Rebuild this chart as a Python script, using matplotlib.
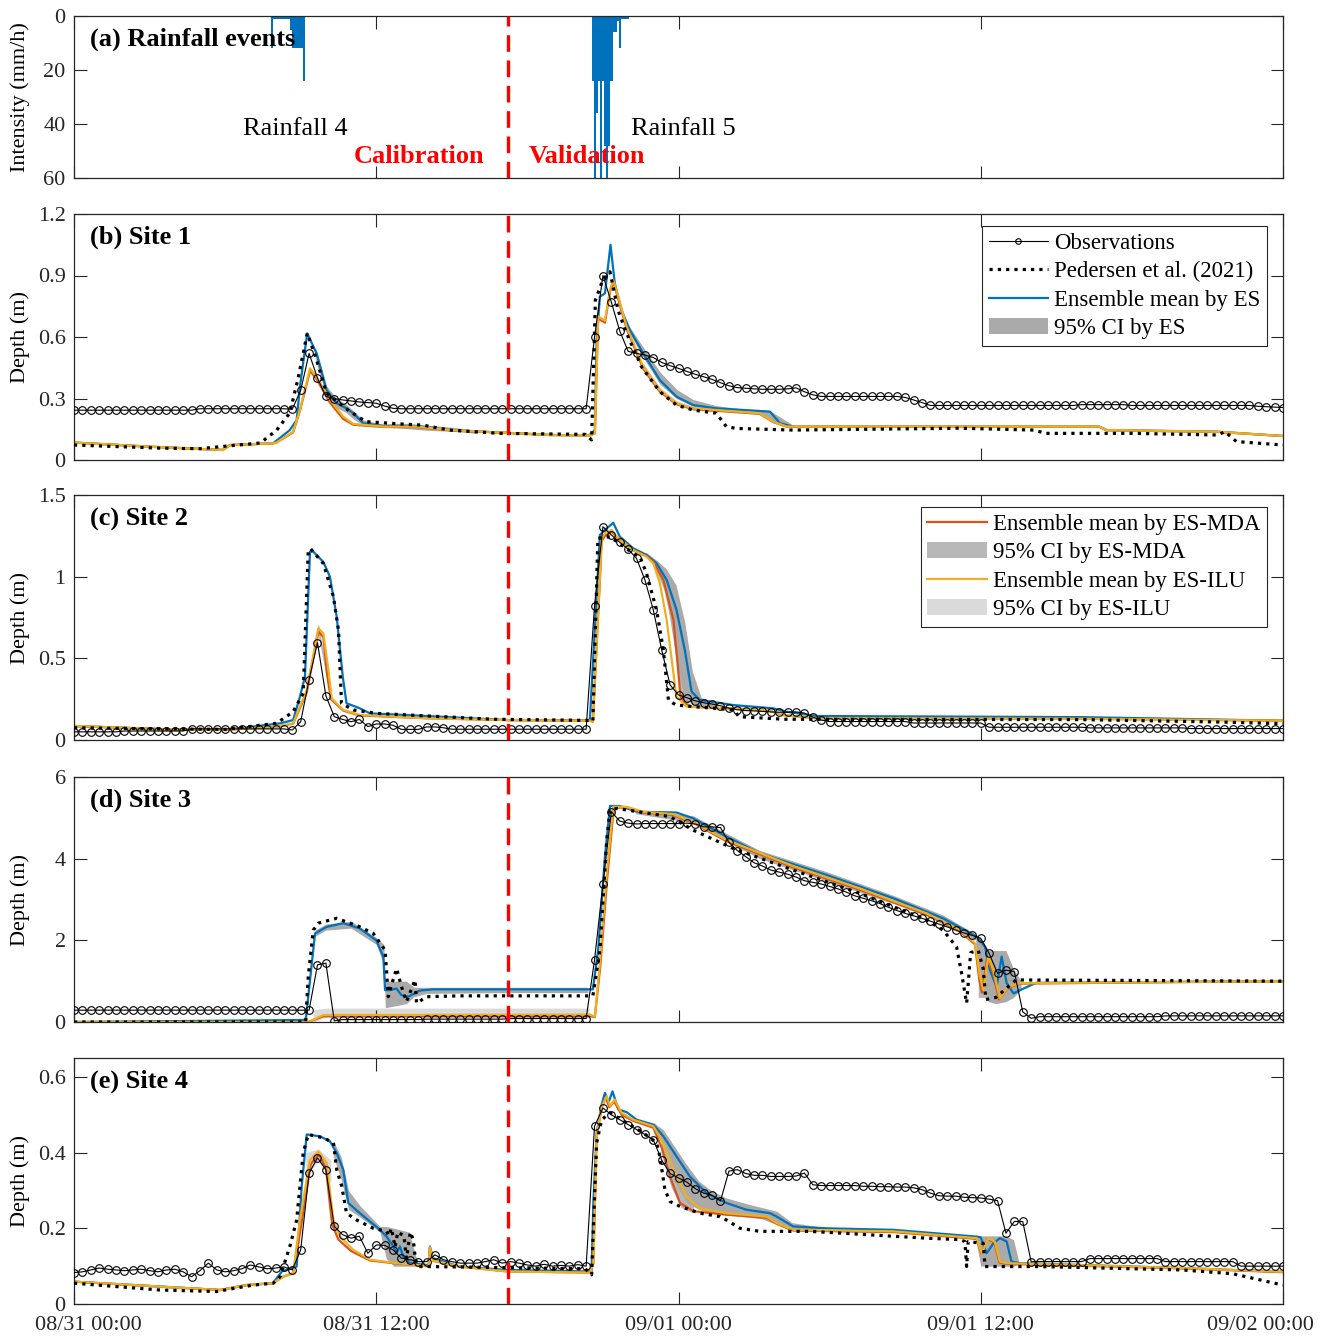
import numpy as np
import matplotlib
matplotlib.use('Agg')
import matplotlib.pyplot as plt
import matplotlib.transforms as mtrans
from matplotlib.patches import Patch
from matplotlib.lines import Line2D
from matplotlib.ticker import FuncFormatter

plt.rcParams['font.family'] = ['Liberation Serif', 'DejaVu Serif']
plt.rcParams['font.size'] = 16
plt.rcParams['axes.edgecolor'] = '#262626'
plt.rcParams['xtick.color'] = '#262626'
plt.rcParams['ytick.color'] = '#262626'

# time in hours from 08/31 00:00
xtick_h = [0, 12, 24, 36, 48]
xtick_lab = ['08/31 00:00', '08/31 12:00', '09/01 00:00', '09/01 12:00', '09/02 00:00']
t_split = 17.25

# ---------------- rainfall (5 min) ----------------
r4_t0 = 7.83
r4 = [12, 1, 1, 1, 1, 1, 1, 1, 1, 5, 12, 12, 12, 12, 12, 24]
r5_t0 = 20.55
r5 = [24, 75, 36, 24, 75, 24, 48, 75, 48, 24, 6, 6, 2, 12, 1, 1, 1, 1]

# ---------------- observations (every 20 min) ----------------
obs1 = ([0.243]*15 + [0.25]*11 +
        [0.248, 0.34, 0.52, 0.40, 0.31, 0.30, 0.293, 0.288, 0.283, 0.28, 0.277, 0.263, 0.252] +
        [0.25]*23 +
        [0.60, 0.90, 0.77, 0.63, 0.53, 0.52, 0.512, 0.50, 0.476, 0.46, 0.447, 0.432, 0.418, 0.406,
         0.393, 0.377, 0.362, 0.353, 0.35, 0.347, 0.345, 0.345, 0.345, 0.347, 0.352, 0.333, 0.318] +
        [0.31]*10 + [0.305, 0.293, 0.28] + [0.266]*18 + [0.27]*6 + [0.266]*15 +
        [0.262, 0.26, 0.258, 0.256])
obs2 = ([0.05]*6 + [0.055]*8 + [0.068]*12 +
        [0.061, 0.112, 0.37, 0.596, 0.271, 0.143, 0.126, 0.112, 0.126, 0.082, 0.098, 0.098, 0.09,
         0.065, 0.065, 0.065, 0.08, 0.08, 0.075] +
        [0.066]*17 +
        [0.823, 1.306, 1.255, 1.21, 1.168, 1.112, 0.98, 0.796, 0.551, 0.337, 0.276, 0.259, 0.24,
         0.228, 0.22, 0.21, 0.195, 0.185, 0.18, 0.178, 0.175, 0.172, 0.17, 0.17, 0.172, 0.165, 0.14, 0.122] +
        [0.113]*10 + [0.104]*9 + [0.078]*12 + [0.074]*12 + [0.07]*12)
obs3 = ([0.29]*29 + [1.40, 1.44, 0.03] + [0.06]*10 + [0.07]*10 + [0.085]*10 +
        [1.52, 3.38, 5.15, 4.92, 4.87, 4.85, 4.86, 4.86, 4.86, 4.86, 4.86, 4.87, 4.85, 4.78, 4.78,
         4.76, 4.4, 4.2, 4.05, 3.9, 3.82, 3.72, 3.67, 3.62, 3.55, 3.46, 3.42, 3.38, 3.32, 3.26, 3.18,
         3.09, 3.03, 2.97, 2.9, 2.81, 2.73, 2.66, 2.6, 2.54, 2.47, 2.4, 2.33, 2.25, 2.18, 2.12, 2.05,
         1.68, 1.19, 1.27, 1.23, 0.25, 0.09] +
        [0.13]*15 + [0.15]*15)
obs4 = ([0.083, 0.085, 0.09, 0.095, 0.092, 0.09, 0.088, 0.09, 0.092, 0.088, 0.085, 0.09, 0.092,
         0.085, 0.072, 0.088, 0.108, 0.09, 0.085, 0.088, 0.093, 0.103, 0.098, 0.093, 0.095, 0.098,
         0.09, 0.143, 0.346, 0.386, 0.355, 0.205, 0.183, 0.174, 0.179, 0.134, 0.156, 0.155, 0.143,
         0.121, 0.117, 0.112, 0.112, 0.13, 0.117, 0.112, 0.108, 0.108, 0.108, 0.112, 0.117, 0.108,
         0.112, 0.108, 0.103, 0.1, 0.105, 0.1, 0.102, 0.1, 0.104, 0.1] +
        [0.47, 0.518, 0.5, 0.487, 0.474, 0.461, 0.448, 0.434, 0.38, 0.345, 0.333, 0.322, 0.305,
         0.293, 0.287, 0.272, 0.351, 0.355, 0.345, 0.34, 0.34, 0.337, 0.337, 0.337, 0.338, 0.346,
         0.315, 0.313, 0.313, 0.313, 0.313, 0.313, 0.311, 0.311, 0.31, 0.31, 0.309, 0.309, 0.307,
         0.302, 0.293, 0.286, 0.285, 0.285, 0.282, 0.281, 0.28, 0.277, 0.273, 0.187, 0.218, 0.218, 0.112] +
        [0.112]*6 + [0.12]*9 + [0.112]*9 + [0.1]*6)

# ---------------- site 1 ----------------
p1_t = [0, 3.4, 5.0, 5.8, 7.4, 8.05, 8.57, 8.9, 9.26, 9.6, 10.03, 10.96, 11.6, 12.94, 13.86, 14.9,
        16.9, 20.3, 20.55, 20.7, 21.0, 21.28, 21.6, 21.94, 22.53, 23.26, 23.92, 24.58, 25.5, 25.9,
        26.3, 28.55, 35.2, 38.1, 38.6, 42.0, 45.4, 45.7, 46.15, 48]
p1_y = [0.073, 0.058, 0.055, 0.065, 0.083, 0.146, 0.23, 0.40, 0.618, 0.50, 0.325, 0.236, 0.187,
        0.176, 0.17, 0.146, 0.13, 0.125, 0.098, 0.78, 0.88, 0.918, 0.73, 0.618, 0.455, 0.333, 0.268,
        0.244, 0.228, 0.163, 0.154, 0.146, 0.155, 0.146, 0.13, 0.13, 0.122, 0.138, 0.09, 0.073]
es1_t = [0, 3.0, 5.9, 6.2, 7.9, 8.57, 8.84, 8.97, 9.26, 9.63, 10.03, 10.43, 10.82, 11.09, 11.49,
         12.28, 13.6, 14.9, 17.57, 18.9, 20.45, 20.68, 20.75, 20.88, 21.08, 21.3, 21.47, 21.74, 22.07,
         22.6, 23.26, 23.92, 24.58, 25.5, 27.63, 28.03, 28.55, 40.7, 41.0, 45.4, 48]
es1_y = [0.085, 0.065, 0.049, 0.073, 0.081, 0.146, 0.195, 0.357, 0.618, 0.52, 0.34, 0.277, 0.252,
         0.228, 0.179, 0.166, 0.166, 0.146, 0.13, 0.122, 0.12, 0.146, 0.585, 0.797, 0.813, 1.05,
         0.862, 0.73, 0.634, 0.52, 0.39, 0.309, 0.268, 0.252, 0.236, 0.179, 0.163, 0.163, 0.146,
         0.138, 0.117]
ilu1_t = [0, 3.0, 5.9, 6.2, 7.9, 8.04, 8.7, 8.97, 9.37, 9.63, 10.16, 10.69, 11.09, 12.28, 13.6,
          14.9, 17.57, 18.9, 20.5, 20.68, 20.81, 21.08, 21.28, 21.41, 21.61, 21.94, 22.6, 23.26,
          23.92, 24.58, 27.23, 27.76, 28.3, 40.7, 41.0, 45.4, 48]
ilu1_y = [0.085, 0.065, 0.049, 0.073, 0.081, 0.085, 0.138, 0.244, 0.447, 0.406, 0.293, 0.211,
          0.176, 0.163, 0.163, 0.146, 0.13, 0.122, 0.12, 0.13, 0.7, 0.68, 0.83, 0.878, 0.797, 0.65,
          0.455, 0.341, 0.277, 0.252, 0.228, 0.187, 0.163, 0.163, 0.146, 0.138, 0.117]
mda1_t = ilu1_t
mda1_y = [0.085, 0.065, 0.049, 0.073, 0.081, 0.085, 0.135, 0.24, 0.435, 0.395, 0.28, 0.20, 0.172,
          0.161, 0.161, 0.145, 0.13, 0.122, 0.12, 0.13, 0.69, 0.67, 0.82, 0.868, 0.787, 0.64, 0.445,
          0.333, 0.272, 0.248, 0.225, 0.185, 0.162, 0.162, 0.145, 0.137, 0.117]
ci_es1 = [([9.6, 10.03, 10.43, 10.82, 11.09, 11.49, 12.28, 13.0, 14.0, 15.0, 16.0],
           [0.48, 0.31, 0.255, 0.23, 0.20, 0.17, 0.16, 0.155, 0.145, 0.14, 0.13],
           [0.55, 0.36, 0.30, 0.27, 0.24, 0.195, 0.175, 0.18, 0.17, 0.16, 0.145]),
          ([22.0, 22.6, 23.26, 23.92, 24.58, 25.5, 26.5, 27.3, 27.63, 28.03, 28.55],
           [0.63, 0.5, 0.37, 0.30, 0.262, 0.245, 0.235, 0.225, 0.2, 0.17, 0.16],
           [0.66, 0.55, 0.43, 0.345, 0.295, 0.265, 0.25, 0.245, 0.24, 0.21, 0.17])]
ci_mda1 = [([22.6, 23.26, 23.92, 24.58, 25.5], [0.44, 0.33, 0.27, 0.245, 0.235],
            [0.47, 0.35, 0.285, 0.26, 0.245])]
ci_ilu1 = [([22.6, 23.26, 23.92, 24.58, 25.5], [0.445, 0.335, 0.272, 0.248, 0.236],
            [0.47, 0.355, 0.29, 0.262, 0.248])]

# ---------------- site 2 ----------------
p2_t = [0, 3.4, 6.0, 8.04, 8.7, 9.1, 9.3, 9.4, 9.9, 10.3, 10.5, 10.62, 11.09, 12.0, 16.65, 20.5,
        20.6, 20.8, 21.28, 22.2, 22.47, 22.73, 23.13, 23.4, 23.6, 23.9, 26.2, 26.4, 28.2, 40, 45.5, 48]
p2_y = [0.075, 0.068, 0.065, 0.102, 0.173, 0.286, 1.163, 1.17, 1.08, 0.877, 0.673, 0.225, 0.184,
        0.163, 0.127, 0.12, 0.115, 1.235, 1.245, 1.143, 1.122, 1.02, 0.796, 0.551, 0.245, 0.214,
        0.184, 0.143, 0.127, 0.125, 0.11, 0.1]
es2_t = [0, 3.4, 6.0, 8.18, 8.7, 8.97, 9.17, 9.37, 9.5, 9.9, 10.16, 10.43, 10.67, 10.82, 11.35,
         11.75, 14.0, 17.2, 20.48, 20.88, 21.08, 21.41, 21.67, 22.2, 22.73, 23.13, 23.53, 23.92,
         24.25, 24.52, 24.85, 26.17, 27.76, 28.3, 29.48, 40, 48]
es2_y = [0.085, 0.067, 0.062, 0.102, 0.122, 0.265, 0.388, 1.153, 1.153, 1.09, 1.0, 0.755, 0.388,
         0.225, 0.194, 0.163, 0.147, 0.122, 0.12, 1.255, 1.286, 1.33, 1.245, 1.174, 1.133, 1.082,
         0.98, 0.796, 0.551, 0.296, 0.245, 0.214, 0.194, 0.173, 0.147, 0.14, 0.118]
ilu2_t = [0, 3.4, 6.06, 6.85, 8.04, 8.7, 9.24, 9.7, 9.9, 10.1, 10.23, 10.69, 11.35, 14.0, 17.2,
          20.5, 20.6, 20.88, 20.95, 21.08, 21.35, 21.55, 22.2, 22.73, 23.0, 23.26, 23.53, 23.73,
          23.92, 24.32, 27.5, 28.16, 29.48, 40, 48]
ilu2_y = [0.086, 0.067, 0.061, 0.071, 0.081, 0.102, 0.306, 0.684, 0.653, 0.429, 0.255, 0.184,
          0.153, 0.133, 0.122, 0.118, 0.112, 1.0, 1.235, 1.265, 1.286, 1.245, 1.163, 1.122, 1.082,
          0.96, 0.735, 0.49, 0.265, 0.204, 0.184, 0.153, 0.133, 0.13, 0.118]
mda2_t = [0, 3.4, 6.06, 6.85, 8.04, 8.7, 9.24, 9.7, 9.9, 10.05, 10.2, 10.69, 11.35, 14.0, 17.2,
          20.5, 20.6, 20.88, 20.95, 21.08, 21.35, 21.55, 22.2, 22.73, 23.0, 23.4, 23.8, 23.95, 24.08,
          24.4, 27.5, 28.16, 29.48, 40, 48]
mda2_y = [0.086, 0.067, 0.061, 0.071, 0.081, 0.1, 0.29, 0.665, 0.63, 0.40, 0.25, 0.18, 0.15,
          0.133, 0.122, 0.118, 0.112, 0.98, 1.22, 1.25, 1.275, 1.24, 1.163, 1.125, 1.09, 0.98, 0.735,
          0.49, 0.265, 0.204, 0.184, 0.153, 0.133, 0.13, 0.118]
ci_es2 = [([22.7, 23.13, 23.5, 23.9, 24.25, 24.55, 24.9, 25.5],
           [1.12, 1.05, 0.9, 0.5, 0.25, 0.22, 0.21, 0.205],
           [1.15, 1.10, 1.05, 0.95, 0.72, 0.42, 0.26, 0.225])]
ci_mda2 = [([9.2, 9.7, 10.2], [0.28, 0.64, 0.24], [0.32, 0.71, 0.27]),
           ([23.0, 23.4, 23.8, 24.1, 24.4], [1.07, 0.93, 0.65, 0.25, 0.2], [1.1, 1.02, 0.85, 0.45, 0.22])]
ci_ilu2 = [([9.2, 9.7, 10.2], [0.29, 0.66, 0.25], [0.33, 0.72, 0.28])]

# ---------------- site 3 ----------------
p3_t = [0, 9.2, 9.3, 9.5, 9.7, 10.43, 11.35, 11.88, 12.35, 12.48, 12.6, 12.81, 13.0, 13.2, 13.54,
        13.6, 14.0, 15.3, 20.6, 20.88, 21.15, 21.28, 21.55, 23.66, 24.58, 26.17, 28.55, 31.2, 33.85,
        34.5, 35.04, 35.24, 35.44, 35.6, 35.9, 36.1, 36.2, 36.6, 37.4, 48]
p3_y = [0.0, 0.0, 1.11, 2.25, 2.42, 2.54, 2.33, 2.17, 1.76, 0.62, 0.9, 1.31, 0.865, 0.5, 1.03,
        0.46, 0.62, 0.64, 0.64, 1.76, 4.46, 5.19, 5.23, 5.03, 4.7, 4.25, 3.72, 3.15, 2.5, 2.25, 1.84,
        1.19, 0.46, 1.7, 1.75, 1.3, 0.55, 0.6, 1.03, 1.0]
es3_t = [0, 9.2, 9.57, 10.03, 10.69, 11.35, 12.0, 12.28, 12.35, 12.54, 12.8, 13.0, 13.27, 13.73,
         14.26, 20.6, 20.81, 21.08, 21.28, 21.67, 22.34, 23.92, 24.58, 25.9, 27.23, 29.88, 32.53,
         34.5, 35.84, 36.17, 36.36, 36.63, 36.83, 37.03, 37.3, 37.7, 38.2, 48]
es3_y = [0.0, 0.05, 2.17, 2.33, 2.42, 2.29, 2.0, 1.6, 0.78, 0.78, 0.82, 0.66, 0.62, 0.77, 0.8, 0.8,
         1.76, 4.05, 5.29, 5.29, 5.15, 5.13, 4.99, 4.54, 4.13, 3.6, 3.03, 2.54, 2.09, 1.84, 1.27,
         0.86, 1.6, 0.95, 0.7, 0.82, 0.96, 1.0]
ilu3_t = [0, 9.3, 9.9, 20.5, 20.68, 20.88, 21.15, 21.41, 21.94, 22.6, 23.8, 24.58, 25.9, 28.55,
          31.2, 33.85, 35.17, 35.77, 35.97, 36.1, 36.3, 36.5, 36.76, 37.1, 37.55, 48]
ilu3_y = [0.0, 0.0, 0.17, 0.18, 0.13, 1.44, 3.64, 5.27, 5.27, 5.15, 5.09, 4.9, 4.46, 3.82, 3.27,
          2.66, 2.25, 1.93, 1.11, 0.78, 1.6, 1.27, 0.58, 0.86, 0.95, 1.0]
mda3_t = [0, 9.3, 9.9, 20.5, 20.68, 20.9, 21.18, 21.43, 21.94, 22.6, 23.8, 24.58, 25.9, 28.55,
          31.2, 33.85, 35.17, 35.77, 35.95, 36.05, 36.25, 36.5, 36.72, 37.1, 37.55, 48]
mda3_y = [0.0, 0.0, 0.14, 0.14, 0.12, 1.4, 3.6, 5.25, 5.25, 5.13, 5.07, 4.88, 4.43, 3.79, 3.24,
          2.63, 2.22, 1.9, 1.0, 0.72, 1.55, 1.2, 0.55, 0.84, 0.94, 1.0]
ci_es3 = [([9.57, 10.0, 11.0, 12.0, 12.3, 12.36, 12.8, 13.2, 13.5, 14.0, 17.0, 20.4],
           [2.1, 2.25, 2.3, 1.9, 1.4, 0.35, 0.4, 0.45, 0.62, 0.7, 0.72, 0.72],
           [2.25, 2.4, 2.47, 2.07, 1.9, 1.0, 1.0, 1.0, 0.85, 0.85, 0.85, 0.85]),
          ([22.3, 24.58, 25.9, 27.23, 29.88, 32.53, 34.5, 35.8],
           [5.1, 4.88, 4.42, 4.0, 3.45, 2.9, 2.45, 2.0],
           [5.2, 5.05, 4.62, 4.2, 3.68, 3.1, 2.62, 2.15]),
          ([35.8, 36.0, 36.3, 36.6, 37.0, 37.3, 37.6],
           [1.9, 1.0, 0.5, 0.45, 0.5, 0.6, 0.8],
           [2.15, 2.05, 1.75, 1.75, 1.75, 1.3, 1.0])]
ci_mda3 = [([35.9, 36.2, 36.6, 37.0, 37.4], [0.6, 0.6, 0.45, 0.7, 0.9], [1.9, 1.7, 1.5, 1.2, 1.0])]
ci_ilu3 = [([9.5, 10.0, 20.45], [0.0, 0.12, 0.12], [0.3, 0.34, 0.34])]

# ---------------- site 4 ----------------
p4_t = [0, 3.4, 5.67, 6.33, 7.12, 7.91, 8.18, 8.57, 8.84, 9.1, 9.3, 9.9, 10.3, 10.43, 10.63, 10.82,
        11.22, 11.88, 12.41, 12.5, 12.6, 12.75, 12.85, 13.1, 13.2, 13.35, 13.47, 13.55, 13.67, 14.0,
        20.3, 20.55, 20.75, 20.95, 21.28, 21.94, 22.6, 23.13, 23.26, 23.46, 23.66, 24.06, 24.85,
        25.64, 25.9, 26.44, 27.23, 29.2, 30.54, 32.53, 33.85, 35.17, 35.37, 35.44, 35.5, 36.1, 36.17,
        38.35, 44, 46, 48]
p4_y = [0.055, 0.037, 0.033, 0.041, 0.05, 0.055, 0.072, 0.152, 0.222, 0.399, 0.448, 0.439, 0.426,
        0.355, 0.311, 0.24, 0.222, 0.2, 0.192, 0.18, 0.2, 0.15, 0.19, 0.18, 0.12, 0.19, 0.17, 0.12,
        0.099, 0.099, 0.093, 0.077, 0.426, 0.487, 0.505, 0.479, 0.452, 0.426, 0.39, 0.302, 0.271,
        0.258, 0.24, 0.231, 0.222, 0.2, 0.192, 0.192, 0.187, 0.179, 0.174, 0.17, 0.165, 0.099, 0.165,
        0.16, 0.099, 0.099, 0.09, 0.08, 0.05]
es4_t = [0, 5.8, 6.85, 7.9, 8.25, 8.84, 9.04, 9.24, 9.77, 10.16, 10.43, 10.69, 10.89, 11.35, 12.15,
         12.41, 12.68, 12.8, 12.94, 13.07, 13.34, 14.0, 14.08, 14.13, 14.26, 15.3, 17.2, 20.5, 20.55,
         20.62, 20.75, 20.95, 21.08, 21.22, 21.38, 21.61, 21.94, 22.34, 23.0, 23.4, 23.92, 24.45,
         25.12, 25.9, 26.7, 27.63, 27.9, 28.55, 29.88, 32.53, 35.84, 36.0, 36.23, 36.5, 36.76, 37.03,
         37.22, 37.55, 44, 48]
es4_y = [0.059, 0.037, 0.05, 0.055, 0.086, 0.099, 0.311, 0.448, 0.443, 0.43, 0.399, 0.355, 0.267,
         0.24, 0.196, 0.178, 0.152, 0.134, 0.152, 0.125, 0.108, 0.103, 0.103, 0.152, 0.121, 0.099,
         0.09, 0.086, 0.086, 0.267, 0.452, 0.527, 0.558, 0.532, 0.562, 0.514, 0.507, 0.487, 0.474,
         0.443, 0.39, 0.337, 0.293, 0.267, 0.249, 0.24, 0.231, 0.205, 0.2, 0.196, 0.178, 0.176, 0.134,
         0.16, 0.174, 0.165, 0.112, 0.108, 0.095, 0.085]
ilu4_t = [0, 5.8, 6.85, 7.9, 8.3, 8.7, 8.97, 9.37, 9.7, 10.03, 10.3, 10.56, 11.09, 11.75, 12.68,
          14.0, 14.08, 14.13, 14.26, 15.3, 17.2, 20.5, 20.62, 20.75, 20.95, 21.15, 21.28, 21.47,
          21.74, 22.2, 23.0, 23.4, 23.8, 24.32, 24.85, 25.9, 27.5, 27.9, 28.55, 32.53, 35.84, 36.04,
          36.3, 36.56, 36.76, 37.03, 44, 48]
ilu4_y = [0.059, 0.037, 0.05, 0.055, 0.072, 0.081, 0.222, 0.381, 0.403, 0.373, 0.222, 0.178,
          0.143, 0.117, 0.109, 0.1, 0.1, 0.15, 0.115, 0.099, 0.086, 0.083, 0.108, 0.443, 0.523,
          0.549, 0.523, 0.54, 0.505, 0.487, 0.47, 0.426, 0.355, 0.284, 0.253, 0.24, 0.231, 0.214,
          0.196, 0.192, 0.174, 0.134, 0.174, 0.165, 0.112, 0.108, 0.095, 0.085]
mda4_t = [0, 5.8, 6.85, 7.9, 8.3, 8.7, 9.0, 9.4, 9.72, 10.0, 10.25, 10.5, 11.0, 11.75, 12.68,
          14.0, 14.08, 14.13, 14.26, 15.3, 17.2, 20.5, 20.62, 20.75, 20.95, 21.12, 21.25, 21.45,
          21.74, 22.2, 23.0, 23.35, 23.7, 24.06, 24.6, 25.9, 27.5, 27.9, 28.55, 32.53, 35.84, 36.02,
          36.28, 36.54, 36.74, 37.03, 44, 48]
mda4_y = [0.059, 0.037, 0.05, 0.055, 0.072, 0.081, 0.2, 0.37, 0.395, 0.36, 0.21, 0.17, 0.14,
          0.115, 0.108, 0.1, 0.1, 0.148, 0.114, 0.099, 0.086, 0.083, 0.108, 0.44, 0.52, 0.545, 0.52,
          0.535, 0.50, 0.484, 0.466, 0.41, 0.33, 0.267, 0.245, 0.236, 0.228, 0.212, 0.194, 0.19,
          0.172, 0.134, 0.172, 0.163, 0.11, 0.106, 0.094, 0.084]
ci_es4 = [([10.3, 10.6, 10.9, 11.35, 12.15, 12.4, 12.7, 13.0, 13.3, 13.6],
           [0.39, 0.33, 0.25, 0.23, 0.19, 0.12, 0.1, 0.1, 0.1, 0.1],
           [0.43, 0.39, 0.3, 0.26, 0.205, 0.205, 0.2, 0.195, 0.19, 0.12]),
          ([23.0, 23.4, 23.8, 24.3, 24.8, 25.3, 25.9, 26.7, 27.3, 27.9, 28.5, 29.5],
           [0.46, 0.42, 0.33, 0.27, 0.25, 0.24, 0.235, 0.23, 0.225, 0.21, 0.195, 0.195],
           [0.48, 0.46, 0.42, 0.37, 0.325, 0.3, 0.28, 0.265, 0.255, 0.245, 0.215, 0.205]),
          ([35.8, 36.0, 36.3, 36.6, 37.0, 37.3, 37.5],
           [0.17, 0.1, 0.1, 0.1, 0.1, 0.1, 0.105],
           [0.18, 0.18, 0.18, 0.18, 0.18, 0.17, 0.115])]
ci_mda4 = [([23.3, 23.7, 24.1, 24.6], [0.40, 0.31, 0.255, 0.24], [0.44, 0.37, 0.30, 0.26])]
ci_ilu4 = [([9.2, 9.7, 10.2], [0.33, 0.38, 0.32], [0.4, 0.41, 0.38])]

c_es = '#0072BD'
c_mda = '#D95319'
c_ilu = '#EDB120'
c_ci_es = '#AAAAAA'
c_ci_mda = '#B8B8B8'
c_ci_ilu = '#DADADA'


def draw_site(ax, obs, p, es, mda, ilu, ci_es, ci_mda, ci_ilu):
    for t, lo, hi in ci_ilu:
        ax.fill_between(t, lo, hi, color=c_ci_ilu, lw=0, zorder=1)
    for t, lo, hi in ci_mda:
        ax.fill_between(t, lo, hi, color=c_ci_mda, lw=0, zorder=1.1)
    for t, lo, hi in ci_es:
        ax.fill_between(t, lo, hi, color=c_ci_es, lw=0, zorder=1.2)
    ax.plot(es[0], es[1], color=c_es, lw=1.6, zorder=2)
    ax.plot(mda[0], mda[1], color=c_mda, lw=1.6, zorder=2.1)
    ax.plot(ilu[0], ilu[1], color=c_ilu, lw=1.6, zorder=2.2)
    ax.plot(p[0], p[1], color='k', lw=2.3, ls=(0, (1, 1.6)), zorder=3)
    t_obs = np.arange(len(obs)) / 3.0
    ax.plot(t_obs, obs, color='k', lw=0.8, marker='o', ms=5.5, mfc='none', mew=0.8, zorder=4)


fig = plt.figure(figsize=(13.25, 13.37), dpi=100)
L, W = 74/1325, 1209/1325
boxes = [(16, 178), (214, 460), (495, 740), (777, 1022), (1058, 1304)]
axs = [fig.add_axes([L, 1 - b/1337, W, (b - t)/1337]) for t, b in boxes]

# (a) rainfall
ax = axs[0]
ax.bar(r4_t0 + np.arange(len(r4))/12, r4, width=1/12, align='edge', color=c_es, lw=0)
ax.bar(r5_t0 + np.arange(len(r5))/12, r5, width=1/12, align='edge', color=c_es, lw=0)
ax.set_ylim(60, 0)
ax.set_yticks([0, 20, 40, 60])
ax.set_ylabel('Intensity (mm/h)')
ax.text(8.8, 42, 'Rainfall 4', fontsize=19, ha='center', va='center')
ax.text(24.2, 42, 'Rainfall 5', fontsize=19, ha='center', va='center')
ax.text(16.3, 52, 'Calibration', fontsize=19, fontweight='bold', color='#FF0000', ha='right', va='center')
ax.text(18.05, 52, 'Validation', fontsize=19, fontweight='bold', color='#FF0000', ha='left', va='center')

draw_site(axs[1], obs1, (p1_t, p1_y), (es1_t, es1_y), (mda1_t, mda1_y), (ilu1_t, ilu1_y),
          ci_es1, ci_mda1, ci_ilu1)
draw_site(axs[2], obs2, (p2_t, p2_y), (es2_t, es2_y), (mda2_t, mda2_y), (ilu2_t, ilu2_y),
          ci_es2, ci_mda2, ci_ilu2)
draw_site(axs[3], obs3, (p3_t, p3_y), (es3_t, es3_y), (mda3_t, mda3_y), (ilu3_t, ilu3_y),
          ci_es3, ci_mda3, ci_ilu3)
draw_site(axs[4], obs4, (p4_t, p4_y), (es4_t, es4_y), (mda4_t, mda4_y), (ilu4_t, ilu4_y),
          ci_es4, ci_mda4, ci_ilu4)

ylims = [(0, 1.2), (0, 1.5), (0, 6), (0, 0.65)]
yticks = [[0, 0.3, 0.6, 0.9, 1.2], [0, 0.5, 1, 1.5], [0, 2, 4, 6], [0, 0.2, 0.4, 0.6]]
titles = ['(a) Rainfall events', '(b) Site 1', '(c) Site 2', '(d) Site 3', '(e) Site 4']
for i, ax in enumerate(axs[1:]):
    ax.set_ylim(*ylims[i])
    ax.set_yticks(yticks[i])
    ax.set_ylabel('Depth (m)')

for i, ax in enumerate(axs):
    ax.set_xlim(0, 48)
    ax.set_xticks(xtick_h)
    ax.axvline(t_split, color='#FF0000', lw=2.4, ls=(0, (5, 2.6)), zorder=6)
    ax.tick_params(direction='in', length=9, width=0.8, top=True, right=True, labelsize=16, pad=6)
    ax.yaxis.set_major_formatter(FuncFormatter(lambda v, pos: '%g' % v))
    ax.yaxis.set_label_coords(-0.036, 0.5)
    for s in ax.spines.values():
        s.set_linewidth(0.9)
    h = boxes[i][1] - boxes[i][0]
    ax.text(16/1209, 1 - 23/h, titles[i], transform=ax.transAxes, fontsize=19,
            fontweight='bold', ha='left', va='center', zorder=7)
    if i < 4:
        ax.set_xticklabels([])
    else:
        ax.set_xticklabels(xtick_lab)
        ax.tick_params(axis='x', pad=9)

# end labels sit inside the figure, as in the original export
xl = axs[4].get_xticklabels()
xl[0].set_transform(xl[0].get_transform() + mtrans.ScaledTranslation(0.14, 0, fig.dpi_scale_trans))
xl[-1].set_transform(xl[-1].get_transform() + mtrans.ScaledTranslation(-0.23, 0, fig.dpi_scale_trans))

# legends
h1 = [Line2D([], [], color='k', lw=0.8, marker='o', ms=4, mfc='none', mew=0.8),
      Line2D([], [], color='k', lw=2.3, ls=(0, (1, 1.6))),
      Line2D([], [], color=c_es, lw=1.6),
      Patch(facecolor=c_ci_es, edgecolor='none')]
l1 = ['Observations', 'Pedersen et al. (2021)', 'Ensemble mean by ES', '95% CI by ES']
h2 = [Line2D([], [], color=c_mda, lw=1.6),
      Patch(facecolor=c_ci_mda, edgecolor='none'),
      Line2D([], [], color=c_ilu, lw=1.6),
      Patch(facecolor=c_ci_ilu, edgecolor='none')]
l2 = ['Ensemble mean by ES-MDA', '95% CI by ES-MDA', 'Ensemble mean by ES-ILU', '95% CI by ES-ILU']
for ax, hh, ll in [(axs[1], h1, l1), (axs[2], h2, l2)]:
    h = 246
    leg = ax.legend(hh, ll, loc='upper right', bbox_to_anchor=(1 - 16/1209, 1 - 12/h),
                    borderaxespad=0, fontsize=16.5, handlelength=2.6, handletextpad=0.25,
                    labelspacing=0.32, borderpad=0.3, fancybox=False, framealpha=1,
                    edgecolor='#262626')
    leg.get_frame().set_linewidth(0.8)
    leg.set_zorder(8)

fig.savefig('out.png', dpi=100)
